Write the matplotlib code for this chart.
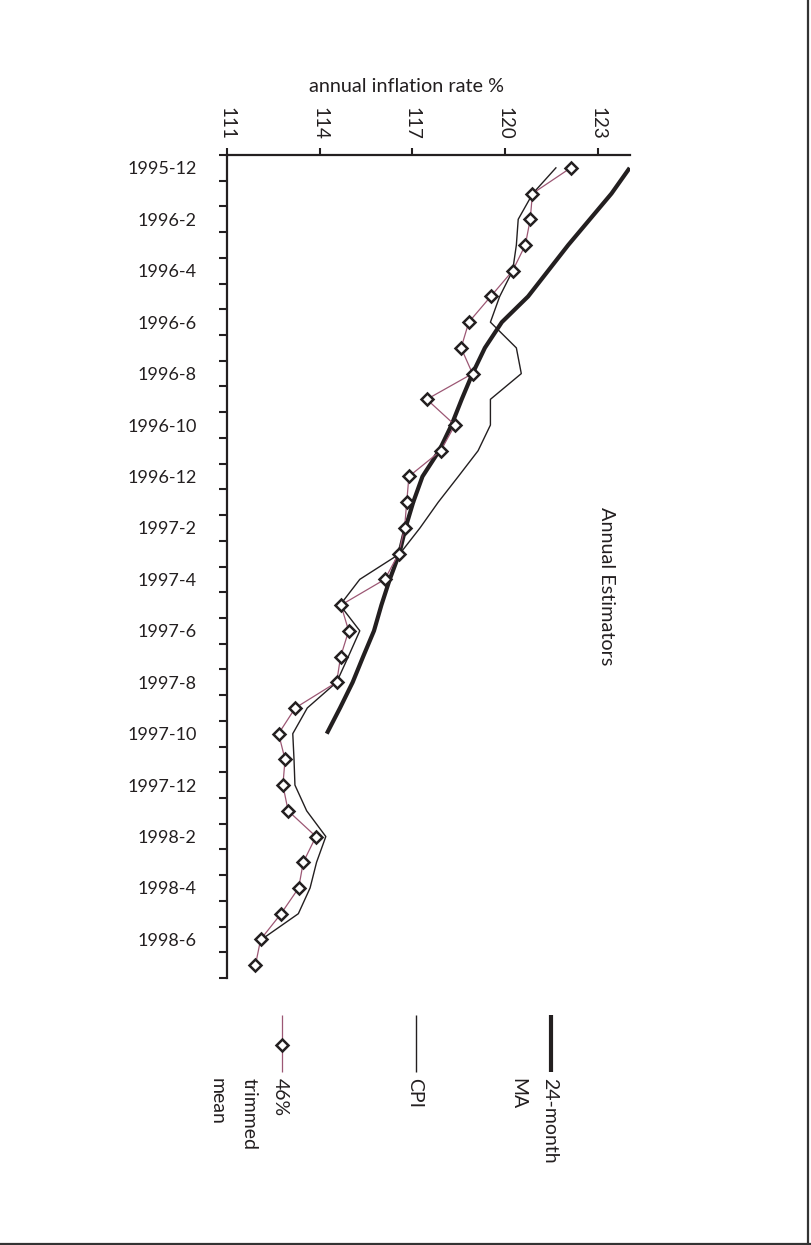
import numpy as np
import matplotlib
matplotlib.use("Agg")
import matplotlib.pyplot as plt
from matplotlib.lines import Line2D

plt.rcParams['font.family'] = ['Lato', 'DejaVu Sans']

# ---------------- data ----------------
months = ['1995-12', '1996-1', '1996-2', '1996-3', '1996-4', '1996-5', '1996-6', '1996-7',
          '1996-8', '1996-9', '1996-10', '1996-11', '1996-12', '1997-1', '1997-2', '1997-3',
          '1997-4', '1997-5', '1997-6', '1997-7', '1997-8', '1997-9', '1997-10', '1997-11',
          '1997-12', '1998-1', '1998-2', '1998-3', '1998-4', '1998-5', '1998-6', '1998-7']

trimmed_mean = [122.13, 120.89, 120.82, 120.66, 120.25, 119.54, 118.83, 118.58,
                118.95, 117.47, 118.38, 117.92, 116.89, 116.82, 116.75, 116.56,
                116.11, 114.69, 114.94, 114.68, 114.55, 113.21, 112.67, 112.88,
                112.81, 112.98, 113.88, 113.47, 113.32, 112.75, 112.09, 111.92]

cpi = [121.65, 120.90, 120.43, 120.37, 120.25, 119.83, 119.53, 120.37,
       120.53, 119.53, 119.53, 119.13, 118.49, 117.84, 117.25, 116.60,
       115.30, 114.66, 115.30, 114.93, 114.55, 113.60, 113.13, 113.17,
       113.20, 113.58, 114.20, 113.90, 113.69, 113.31, 112.12, np.nan]

ma24 = [124.04, 123.45, 122.75, 122.05, 121.40, 120.75, 119.90, 119.35,
        118.95, 118.60, 118.27, 117.87, 117.33, 117.03, 116.78, 116.58,
        116.27, 116.00, 115.76, 115.41, 115.07, 114.66, 114.23, np.nan,
        np.nan, np.nan, np.nan, np.nan, np.nan, np.nan, np.nan, np.nan]

x_ticks = [111, 114, 117, 120, 123]
series_labels = ['46%\ntrimmed\nmean', 'CPI', '24-month\nMA']

# ---------------- style ----------------
W, H = 812, 1245
def fx(x):
    return x / W
def fy(y):
    return 1 - y / H

PURPLE = '#9c5774'
DARK = '#231f20'
MS, MEW = 6.4, 1.8

fig = plt.figure(figsize=(W / 100, H / 100), dpi=100)
fig.patch.set_facecolor('white')

ax = fig.add_axes([fx(227), fy(978), (630 - 227) / W, (978 - 155) / H])

idx = np.arange(len(months))
ax.plot(ma24, idx, color=DARK, lw=3.0, solid_capstyle='butt', zorder=2)
ax.plot(cpi, idx, color=DARK, lw=1.0, zorder=3)
ax.plot(trimmed_mean, idx, color=PURPLE, lw=0.9, marker='D', markersize=MS,
        markerfacecolor='white', markeredgecolor=DARK, markeredgewidth=MEW, zorder=4)

ax.set_xlim(111, 124.05)
ax.set_ylim(len(months) - 0.5, -0.5)

# x axis on top
ax.xaxis.set_ticks_position('top')
ax.xaxis.set_label_position('top')
ax.set_xticks(x_ticks)
ax.set_xticklabels([str(v) for v in x_ticks], rotation=-90, fontsize=13.5, color=DARK)
ax.tick_params(axis='x', direction='out', length=5, width=1.5, color=DARK, pad=6,
               top=True, bottom=False, labeltop=True, labelbottom=False)

# y axis: tick marks at boundaries, labels every second month
ax.set_yticks(np.arange(-0.5, len(months), 1.0))
ax.set_yticklabels([])
ax.set_yticks(idx[::2], minor=True)
ax.set_yticklabels(months[::2], minor=True, fontsize=13, color=DARK)
ax.tick_params(axis='y', which='major', direction='out', length=5.5, width=1.5, color=DARK)
ax.tick_params(axis='y', which='minor', length=0, pad=22)

for s in ['bottom', 'right']:
    ax.spines[s].set_visible(False)
for s in ['top', 'left']:
    ax.spines[s].set_linewidth(1.6)
    ax.spines[s].set_color(DARK)

# axis title and annotation
fig.text(fx(407), fy(87), 'annual inflation rate %', ha='center', va='center',
         fontsize=14.3, color=DARK)
fig.text(fx(607), fy(586), 'Annual Estimators', ha='center', va='center',
         rotation=-90, fontsize=14.3, color=DARK)

# ---------------- legend (rotated) ----------------
leg_x = [282, 416, 551]
leg_styles = [dict(color=PURPLE, lw=0.9), dict(color=DARK, lw=1.0), dict(color=DARK, lw=3.0)]
for lx, st, lab in zip(leg_x, leg_styles, series_labels):
    fig.add_artist(Line2D([fx(lx), fx(lx)], [fy(1015), fy(1072)],
                          transform=fig.transFigure, solid_capstyle='butt', **st))
    fig.text(fx(lx + 7), fy(1078), lab, rotation=-90, rotation_mode='anchor',
             ha='left', va='top', fontsize=14, color=DARK, linespacing=2.05)
fig.add_artist(Line2D([fx(leg_x[0])], [fy(1045)], transform=fig.transFigure,
                      marker='D', markersize=MS, markerfacecolor='white',
                      markeredgecolor=DARK, markeredgewidth=MEW, linestyle='none'))

# page frame (right and bottom edges)
fig.add_artist(Line2D([fx(808.5), fx(808.5)], [0, 1], transform=fig.transFigure,
                      color='#333333', lw=1.6))
fig.add_artist(Line2D([0, 1], [fy(1243.5), fy(1243.5)], transform=fig.transFigure,
                      color='#333333', lw=1.6))

fig.savefig('out.png', dpi=100, facecolor='white')
